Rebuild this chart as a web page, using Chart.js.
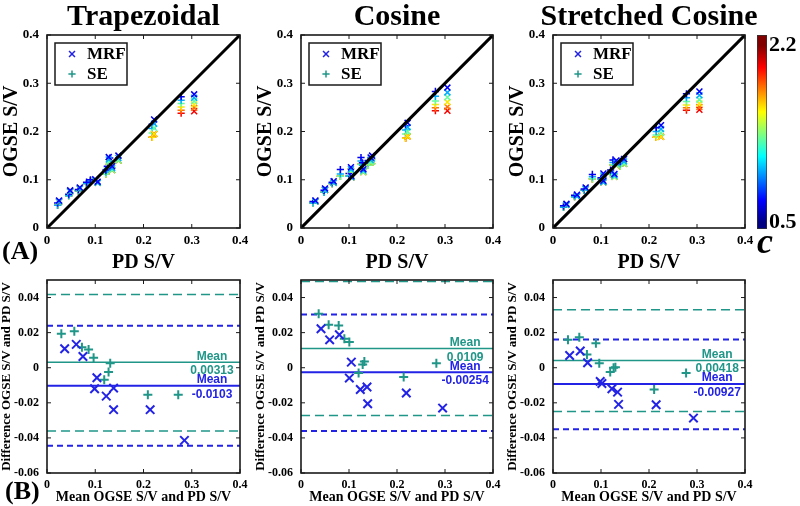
<!DOCTYPE html>
<html><head><meta charset="utf-8">
<script src="https://cdn.jsdelivr.net/npm/chart.js@4/dist/chart.umd.min.js"></script>
<style>
html,body{margin:0;padding:0;background:#fff;}
#wrap{position:relative;width:800px;height:506px;overflow:hidden;background:#fff;}
#wrap canvas{position:absolute;left:0;top:0;}
</style></head><body>
<div id="wrap">
<canvas id="t1" width="800" height="506"></canvas>
<canvas id="t2" width="800" height="506"></canvas>
<canvas id="t3" width="800" height="506"></canvas>
<canvas id="b1" width="800" height="506"></canvas>
<canvas id="b2" width="800" height="506"></canvas>
<canvas id="b3" width="800" height="506"></canvas>
<canvas id="cb" width="800" height="506"></canvas>
</div>
<script>
// ---------------- data ----------------
const panelTitles = ['Trapezoidal', 'Cosine', 'Stretched Cosine'];
const svTicks = [0, 0.1, 0.2, 0.3, 0.4];
const baYTicks = [-0.06, -0.04, -0.02, 0, 0.02, 0.04];
const identityLine = [0, 0.4];
const cLevels = [0.7, 1.0, 1.3, 1.6, 1.8, 2.0];
const cRange = [0.5, 2.2];
const cbTicks = [0.5, 2.2];
const cbSpan = [0.44, 2.3];

// (A) OGSE S/V vs PD S/V, one row per sample, one column per c level
const trapMrfPD = [0.025, 0.048, 0.068, 0.100, 0.105, 0.128, 0.135, 0.148, 0.222, 0.305];
const trapMrfOGSE = [
  [0.057,0.055,0.055,0.055,0.055,0.055],[0.078,0.076,0.076,0.076,0.076,0.076],
  [0.084,0.082,0.082,0.082,0.082,0.082],[0.101,0.099,0.099,0.099,0.099,0.099],
  [0.096,0.094,0.094,0.094,0.094,0.094],[0.147,0.142,0.137,0.137,0.137,0.137],
  [0.128,0.124,0.120,0.120,0.120,0.120],[0.150,0.145,0.140,0.140,0.140,0.140],
  [0.225,0.216,0.207,0.195,0.195,0.195],[0.277,0.270,0.263,0.256,0.249,0.242]];
const trapSePD = [0.022, 0.045, 0.065, 0.082, 0.090, 0.122, 0.125, 0.130, 0.218, 0.278];
const trapSeOGSE = [
  [0.052,0.047,0.047,0.047,0.047,0.047],[0.070,0.067,0.067,0.067,0.067,0.067],
  [0.080,0.077,0.077,0.077,0.077,0.077],[0.095,0.092,0.092,0.092,0.092,0.092],
  [0.100,0.097,0.097,0.097,0.097,0.097],[0.120,0.116,0.112,0.112,0.112,0.112],
  [0.128,0.124,0.120,0.120,0.120,0.120],[0.145,0.139,0.133,0.133,0.133,0.133],
  [0.215,0.206,0.197,0.188,0.188,0.188],[0.272,0.265,0.258,0.251,0.244,0.238]];

const cosMrfPD = [0.030, 0.050, 0.068, 0.104, 0.105, 0.130, 0.145, 0.148, 0.222, 0.305];
const cosMrfOGSE = [
  [0.057,0.055,0.055,0.055,0.055,0.055],[0.082,0.079,0.079,0.079,0.079,0.079],
  [0.097,0.094,0.094,0.094,0.094,0.094],[0.126,0.122,0.118,0.118,0.118,0.118],
  [0.108,0.105,0.105,0.105,0.105,0.105],[0.122,0.119,0.116,0.116,0.116,0.116],
  [0.146,0.141,0.136,0.136,0.136,0.136],[0.150,0.144,0.138,0.138,0.138,0.138],
  [0.218,0.209,0.200,0.190,0.190,0.190],[0.291,0.281,0.271,0.261,0.251,0.243]];
const cosSePD = [0.025, 0.048, 0.065, 0.082, 0.100, 0.125, 0.128, 0.140, 0.218, 0.280];
const cosSeOGSE = [
  [0.055,0.052,0.052,0.052,0.052,0.052],[0.078,0.074,0.074,0.074,0.074,0.074],
  [0.095,0.092,0.092,0.092,0.092,0.092],[0.121,0.112,0.107,0.107,0.107,0.107],
  [0.113,0.108,0.108,0.108,0.108,0.108],[0.146,0.139,0.132,0.132,0.132,0.132],
  [0.135,0.130,0.125,0.125,0.125,0.125],[0.140,0.135,0.130,0.130,0.130,0.130],
  [0.212,0.203,0.195,0.186,0.186,0.186],[0.283,0.273,0.263,0.256,0.249,0.243]];

const strMrfPD = [0.028, 0.050, 0.068, 0.105, 0.105, 0.128, 0.132, 0.148, 0.225, 0.305];
const strMrfOGSE = [
  [0.050,0.048,0.048,0.048,0.048,0.048],[0.069,0.066,0.066,0.066,0.066,0.066],
  [0.084,0.081,0.081,0.081,0.081,0.081],[0.113,0.109,0.105,0.105,0.105,0.105],
  [0.098,0.095,0.095,0.095,0.095,0.095],[0.112,0.109,0.106,0.106,0.106,0.106],
  [0.140,0.135,0.130,0.130,0.130,0.130],[0.143,0.138,0.133,0.133,0.133,0.133],
  [0.213,0.205,0.197,0.189,0.189,0.189],[0.283,0.275,0.266,0.258,0.251,0.245]];
const strSePD = [0.022, 0.045, 0.065, 0.082, 0.100, 0.120, 0.125, 0.140, 0.215, 0.278];
const strSeOGSE = [
  [0.046,0.043,0.043,0.043,0.043,0.043],[0.068,0.065,0.065,0.065,0.065,0.065],
  [0.081,0.078,0.078,0.078,0.078,0.078],[0.111,0.106,0.102,0.102,0.102,0.102],
  [0.104,0.101,0.101,0.101,0.101,0.101],[0.120,0.116,0.112,0.112,0.112,0.112],
  [0.141,0.136,0.131,0.131,0.131,0.131],[0.138,0.133,0.128,0.128,0.128,0.128],
  [0.208,0.200,0.193,0.188,0.188,0.188],[0.278,0.270,0.262,0.255,0.249,0.244]];

// (B) Bland-Altman: mean of OGSE and PD S/V, difference
const trapMrfAvg  = [0.0366, 0.0607, 0.0745, 0.1034, 0.0986, 0.1228, 0.138, 0.138, 0.2138, 0.2848];
const trapMrfDiff = [0.0108, 0.0133, 0.0064, -0.0057, -0.0120, -0.0162, -0.0116, -0.0239, -0.0239, -0.0414];
const trapSeAvg   = [0.0297, 0.0566, 0.0724, 0.0862, 0.0966, 0.131, 0.1276, 0.1186, 0.209, 0.272];
const trapSeDiff  = [0.0194, 0.0208, 0.0117, 0.0104, 0.0057, 0.0026, -0.0025, -0.0068, -0.0154, -0.0154];
const cosMrfAvg   = [0.0417, 0.0597, 0.0799, 0.1049, 0.1007, 0.1236, 0.1375, 0.1389, 0.2194, 0.295];
const cosMrfDiff  = [0.0222, 0.0159, 0.0188, 0.0032, -0.0059, -0.0124, -0.0110, -0.0205, -0.0144, -0.0230];
const cosSeAvg    = [0.0368, 0.0576, 0.0785, 0.0903, 0.1007, 0.132, 0.1285, 0.120, 0.2139, 0.282];
const cosSeDiff   = [0.0307, 0.0245, 0.0241, 0.0165, 0.0146, 0.0036, 0.0018, -0.0030, -0.0053, 0.0026];
const strMrfAvg   = [0.0347, 0.0568, 0.0721, 0.0984, 0.1019, 0.1227, 0.1345, 0.1366, 0.2149, 0.2926];
const strMrfDiff  = [0.0070, 0.0095, 0.0028, -0.0078, -0.0090, -0.0120, -0.0139, -0.0209, -0.0211, -0.0287];
const strSeAvg    = [0.0312, 0.0548, 0.0707, 0.0894, 0.0964, 0.1192, 0.1262, 0.130, 0.2107, 0.2773];
const strSeDiff   = [0.0159, 0.0174, 0.0076, 0.0140, 0.0026, -0.0025, 0.0000, 0.0003, -0.0124, -0.0030];
// [mean, upper limit, lower limit]
const trapMrfStats = [-0.0103, 0.0239, -0.0445];
const trapSeStats  = [0.00313, 0.0417, -0.0361];
const cosMrfStats  = [-0.00254, 0.0303, -0.0361];
const cosSeStats   = [0.0109, 0.0491, -0.0272];
const strMrfStats  = [-0.00927, 0.0161, -0.0350];
const strSeStats   = [0.00418, 0.0330, -0.0249];

// ---------------- styling / layout ----------------
const SERIF = '"Liberation Serif","Times New Roman",serif';
const SANS = '"Liberation Sans",Arial,sans-serif';
const BLUE = '#2323e6';
const TEAL = '#1f9688';
const colL = [47, 301, 553], colR = [240, 493, 745];
Chart.defaults.color = '#000';
Chart.defaults.font.family = SERIF;

function clamp(v){ return Math.max(0, Math.min(1, v)); }
function jet(t){
  t = clamp(t);
  const r = clamp(1.5 - Math.abs(4*t - 3)), g = clamp(1.5 - Math.abs(4*t - 2)), b = clamp(1.5 - Math.abs(4*t - 1));
  return 'rgb(' + Math.round(r*255) + ',' + Math.round(g*255) + ',' + Math.round(b*255) + ')';
}
function cColor(c){ return jet((c - cRange[0]) / (cRange[1] - cRange[0])); }
function fmt(v){ return String(parseFloat(Number(v).toFixed(4))); }
function cloud(pd, og){
  const pts = [], cols = [];
  for (let k = cLevels.length - 1; k >= 0; k--) {
    for (let i = 0; i < pd.length; i++) { pts.push({x: pd[i], y: og[i][k]}); cols.push(cColor(cLevels[k])); }
  }
  return {pts, cols};
}
function zip(xs, ys){ return xs.map((x, i) => ({x, y: ys[i]})); }
function hline(v, color, dash, w){
  return {data: identityLine.map(x => ({x, y: v})), showLine: true, borderColor: color, borderWidth: w,
          borderDash: dash, pointRadius: 0, fill: false};
}

const frameTicks = {
  id: 'frameTicks',
  afterDraw(chart){
    const {ctx, chartArea: a, scales} = chart;
    ctx.save();
    ctx.strokeStyle = '#1a1a1a'; ctx.lineWidth = 1; ctx.setLineDash([]);
    const L = 4;
    ctx.beginPath();
    scales.x.ticks.forEach(t => {
      const p = scales.x.getPixelForValue(t.value);
      ctx.moveTo(p, a.bottom); ctx.lineTo(p, a.bottom - L);
      ctx.moveTo(p, a.top); ctx.lineTo(p, a.top + L);
    });
    scales.y.ticks.forEach(t => {
      const p = scales.y.getPixelForValue(t.value);
      ctx.moveTo(a.left, p); ctx.lineTo(a.left + L, p);
      ctx.moveTo(a.right, p); ctx.lineTo(a.right - L, p);
    });
    ctx.stroke();
    ctx.lineWidth = 1.6;
    ctx.strokeRect(a.left, a.top, a.right - a.left, a.bottom - a.top);
    ctx.restore();
  }
};

function axis(min, max, ticks, title, tickSize, titleSize, pad, fixed, isX){
  return {
    type: 'linear', min, max,
    afterBuildTicks: s => { s.ticks = ticks.map(v => ({value: v})); },
    afterFit: s => { if (isX) s.height = fixed; else s.width = fixed; },
    grid: {display: false, drawTicks: false},
    border: {display: false},
    ticks: {font: {size: tickSize, weight: 'bold', family: SERIF}, padding: pad, callback: v => fmt(v), maxRotation: 0, autoSkip: false},
    title: {display: true, text: title, font: {size: titleSize, weight: 'bold', family: SERIF, lineHeight: 1}, padding: 0, color: '#000'}
  };
}

function baseOptions(area, yW, xH){
  return {
    responsive: false, animation: false, devicePixelRatio: 1,
    layout: {padding: {left: area.l - yW, top: area.t, right: 800 - area.r, bottom: 506 - area.b - xH}},
    plugins: {legend: {display: false}, tooltip: {enabled: false}, title: {display: false}},
    events: []
  };
}

function topChart(id, idx, mrfPD, mrfOG, sePD, seOG){
  const area = {l: colL[idx], r: colR[idx], t: 35, b: 228};
  const mrf = cloud(mrfPD, mrfOG), se = cloud(sePD, seOG);
  const opts = baseOptions(area, 45, 45);
  opts.scales = {
    x: axis(0, 0.4, svTicks, 'PD S/V', 13, 20, 5, 45, true),
    y: axis(0, 0.4, svTicks, 'OGSE S/V', 13, 20, 8, 45, false)
  };
  const extras = {
    id: 'extrasTop',
    afterDraw(chart){
      const {ctx, chartArea: a} = chart;
      ctx.save();
      ctx.fillStyle = '#000';
      ctx.font = 'bold 30px ' + SERIF; ctx.textAlign = 'center'; ctx.textBaseline = 'alphabetic';
      ctx.fillText(panelTitles[idx], (a.left + a.right) / 2, 25);
      // legend box
      const bx = a.left + 8, by = a.top + 8;
      ctx.fillStyle = '#fff'; ctx.fillRect(bx, by, 72, 42);
      ctx.strokeStyle = '#1a1a1a'; ctx.lineWidth = 1.5; ctx.strokeRect(bx, by, 72, 42);
      ctx.strokeStyle = BLUE;
      Chart.helpers.drawPoint(ctx, {pointStyle: 'crossRot', radius: 4.2, borderWidth: 1.3}, a.left + 25, a.top + 19);
      ctx.strokeStyle = TEAL;
      Chart.helpers.drawPoint(ctx, {pointStyle: 'cross', radius: 3.6, borderWidth: 1.3}, a.left + 25, a.top + 39);
      ctx.fillStyle = '#000'; ctx.font = 'bold 17px ' + SERIF; ctx.textAlign = 'left'; ctx.textBaseline = 'middle';
      ctx.fillText('MRF', a.left + 40, a.top + 20);
      ctx.fillText('SE', a.left + 40, a.top + 40);
      if (idx === 0) {
        ctx.font = 'bold 26px ' + SERIF; ctx.textBaseline = 'alphabetic';
        ctx.fillText('(A)', 2, 259);
      }
      ctx.restore();
    }
  };
  new Chart(document.getElementById(id), {
    type: 'scatter',
    data: {datasets: [
      {data: identityLine.map(v => ({x: v, y: v})), showLine: true, borderColor: '#000', borderWidth: 3, pointRadius: 0, fill: false},
      {data: mrf.pts, pointStyle: 'crossRot', pointRadius: 4.2, pointBorderWidth: 1.5, pointBorderColor: mrf.cols, pointBackgroundColor: 'transparent'},
      {data: se.pts, pointStyle: 'cross', pointRadius: 3.6, pointBorderWidth: 1.5, pointBorderColor: se.cols, pointBackgroundColor: 'transparent'}
    ]},
    options: opts,
    plugins: [frameTicks, extras]
  });
}

function baChart(id, idx, mrfX, mrfY, seX, seY, mrfS, seS){
  const area = {l: colL[idx], r: colR[idx], t: 280, b: 473};
  const opts = baseOptions(area, 47, 31);
  opts.scales = {
    x: axis(0, 0.4, svTicks, 'Mean OGSE S/V and PD S/V', 12, 14, 5, 31, true),
    y: axis(-0.06, 0.05, baYTicks, 'Difference OGSE S/V and PD S/V', 12, 13, 8, 47, false)
  };
  opts.scales.y.title.padding = {top: 0.5, bottom: 0};
  const notes = {
    id: 'notesBA',
    afterDraw(chart){
      const {ctx, scales} = chart;
      const cx = scales.x.getPixelForValue(0.342);
      ctx.save();
      ctx.font = 'bold 12px ' + SANS; ctx.textAlign = 'center'; ctx.textBaseline = 'alphabetic';
      const ys = scales.y.getPixelForValue(seS[0]), ym = scales.y.getPixelForValue(mrfS[0]);
      ctx.fillStyle = TEAL;
      ctx.fillText('Mean', cx, ys - 2.5);
      ctx.fillText(String(seS[0]), cx, ys + 12);
      ctx.fillStyle = BLUE;
      ctx.fillText('Mean', cx, ym - 2.5);
      ctx.fillText(String(mrfS[0]), cx, ym + 12);
      if (idx === 0) {
        ctx.fillStyle = '#000'; ctx.font = 'bold 26px ' + SERIF; ctx.textAlign = 'left';
        ctx.fillText('(B)', 5, 499);
      }
      ctx.restore();
    }
  };
  new Chart(document.getElementById(id), {
    type: 'scatter',
    data: {datasets: [
      {data: zip(mrfX, mrfY), pointStyle: 'crossRot', pointRadius: 6, pointBorderWidth: 2, pointBorderColor: BLUE, pointBackgroundColor: 'transparent'},
      {data: zip(seX, seY), pointStyle: 'cross', pointRadius: 4.5, pointBorderWidth: 2, pointBorderColor: TEAL, pointBackgroundColor: 'transparent'},
      hline(mrfS[0], BLUE, [], 2),
      hline(mrfS[1], BLUE, [6, 4], 2),
      hline(mrfS[2], BLUE, [6, 4], 2),
      hline(seS[0], TEAL, [], 1.5),
      hline(seS[1], TEAL, [9, 5], 1.5),
      hline(seS[2], TEAL, [9, 5], 1.5)
    ]},
    options: opts,
    plugins: [frameTicks, notes]
  });
}

topChart('t1', 0, trapMrfPD, trapMrfOGSE, trapSePD, trapSeOGSE);
topChart('t2', 1, cosMrfPD, cosMrfOGSE, cosSePD, cosSeOGSE);
topChart('t3', 2, strMrfPD, strMrfOGSE, strSePD, strSeOGSE);
baChart('b1', 0, trapMrfAvg, trapMrfDiff, trapSeAvg, trapSeDiff, trapMrfStats, trapSeStats);
baChart('b2', 1, cosMrfAvg, cosMrfDiff, cosSeAvg, cosSeDiff, cosMrfStats, cosSeStats);
baChart('b3', 2, strMrfAvg, strMrfDiff, strSeAvg, strSeDiff, strMrfStats, strSeStats);

// colorbar
(function(){
  const area = {l: 757, r: 767, t: 35, b: 229};
  const jetStops = [0, 0.125, 0.375, 0.625, 0.875, 1];
  new Chart(document.getElementById('cb'), {
    type: 'bar',
    data: {labels: ['c'], datasets: [{
      data: [cbSpan],
      barPercentage: 1, categoryPercentage: 1, borderSkipped: false,
      borderColor: '#333', borderWidth: 1,
      backgroundColor: ctx => {
        const ch = ctx.chart, a = ch.chartArea;
        if (!a) return '#888';
        const ys = ch.scales.y;
        const y0 = ys.getPixelForValue(cRange[0]), y1 = ys.getPixelForValue(cRange[1]);
        const g = ch.ctx.createLinearGradient(0, y0, 0, y1);
        jetStops.forEach(s => g.addColorStop(s, jet(s)));
        return g;
      }
    }]},
    options: {
      responsive: false, animation: false, devicePixelRatio: 1, events: [],
      layout: {padding: {left: area.l, top: area.t, right: 0, bottom: 506 - area.b}},
      plugins: {legend: {display: false}, tooltip: {enabled: false}},
      scales: {
        x: {display: false},
        y: {type: 'linear', position: 'right', min: cbSpan[0], max: cbSpan[1],
            afterBuildTicks: s => { s.ticks = cbTicks.map(v => ({value: v})); },
            afterFit: s => { s.width = 800 - area.r; },
            grid: {display: false, drawTicks: false}, border: {display: false},
            ticks: {font: {size: 22, weight: 'bold', family: SERIF}, padding: 2, callback: v => fmt(v)}}
      }
    },
    plugins: [{
      id: 'cLabel',
      afterDraw(chart){
        const ctx = chart.ctx;
        ctx.save(); ctx.fillStyle = '#000';
        ctx.font = 'italic bold 36px ' + SERIF; ctx.textAlign = 'left'; ctx.textBaseline = 'alphabetic';
        ctx.fillText('c', 757, 253);
        ctx.restore();
      }
    }]
  });
})();
</script>
</body></html>
